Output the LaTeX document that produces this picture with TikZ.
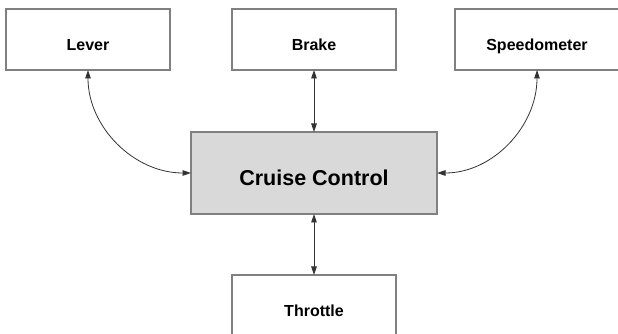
\documentclass[tikz,border=0pt]{standalone}
\usepackage{fontspec}
\setmainfont{Liberation Sans}
\usetikzlibrary{positioning, arrows.meta}

\tikzset{
  blockbox/.style={draw=black!50, line width=1.2pt, fill=white, minimum width=164pt, minimum height=61pt,
    outer sep=0pt, font=\fontsize{16}{19}\selectfont\bfseries, text height=21.5pt, text depth=0pt},
  link/.style={black!80, line width=0.8pt, {Triangle[length=8.5pt,width=5.5pt]}-{Triangle[length=8.5pt,width=5.5pt]}}
}

\begin{document}
\begin{tikzpicture}[x=1pt, y=1pt]
  \useasboundingbox (0,0) rectangle (618,334);
  % top row
  \node[blockbox] (brake) at (314,294.5) {Brake};
  \node[blockbox, left=62pt of brake] (lever) {Lever};
  \node[blockbox, right=59pt of brake] (speedo) {Speedometer};
  % controller and actuator
  \node[blockbox, below=62pt of brake, minimum width=246pt, minimum height=82pt, fill=black!15,
    font=\fontsize{21.5}{25}\selectfont\bfseries, text height=25.4pt] (cruise) {Cruise Control};
  \node[blockbox, below=61pt of cruise] (throttle) {Throttle};
  % connections
  \draw[link] (lever.south) to[out=-90, in=180] (cruise.west);
  \draw[link] (brake.south) -- (cruise.north);
  \draw[link] (speedo.south) to[out=-90, in=0] (cruise.east);
  \draw[link] (cruise.south) -- (throttle.north);
\end{tikzpicture}
\end{document}
